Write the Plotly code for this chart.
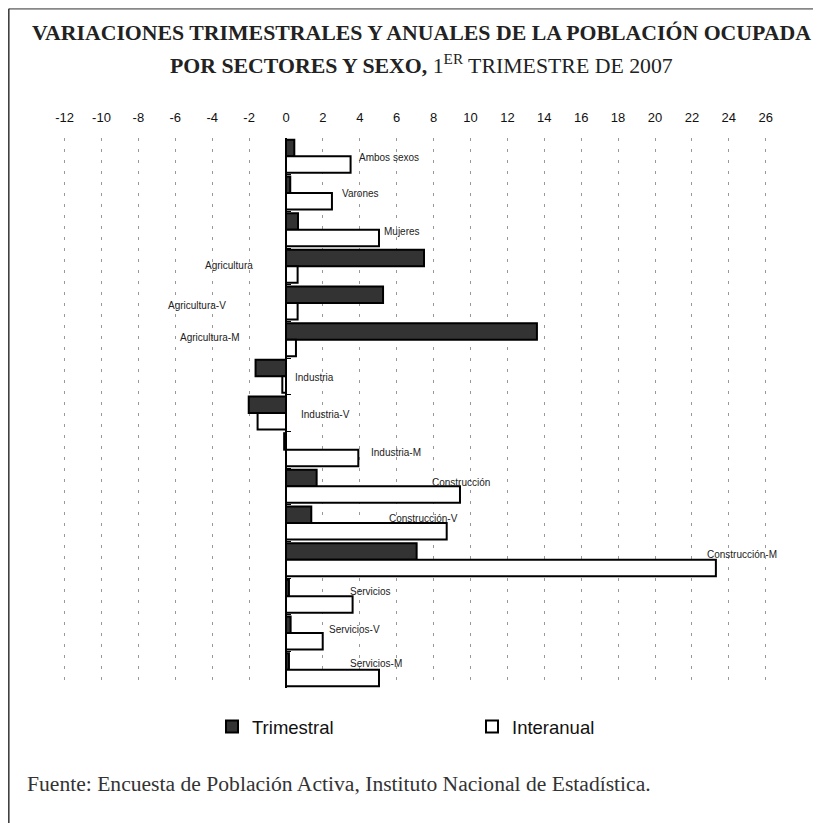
import plotly.graph_objects as go

categorias = ["Ambos sexos", "Varones", "Mujeres", "Agricultura", "Agricultura-V",
              "Agricultura-M", "Industria", "Industria-V", "Industria-M", "Construcción",
              "Construcción-V", "Construcción-M", "Servicios", "Servicios-V", "Servicios-M"]
trimestral = [0.45, 0.23, 0.65, 7.48, 5.26, 13.6, -1.65, -2.02, -0.1, 1.66,
              1.37, 7.08, 0.16, 0.25, 0.16]
interanual = [3.5, 2.49, 5.04, 0.63, 0.63, 0.54, -0.2, -1.54, 3.92, 9.43,
              8.71, 23.3, 3.61, 1.99, 5.04]
ticks_x = list(range(-12, 27, 2))
ticks_txt = [str(v) for v in ticks_x]  # plain hyphen, not unicode minus

# where the data labels sit (x in axis units, y offset in bands)
label_x = [3.86, 2.93, 5.22, -4.52, -6.52, -5.85, 0.40, 0.69, 4.48, 7.82,
           5.49, 22.73, 3.34, 2.24, 3.34]
label_dy = [0.02, 0.01, 0.04, -0.01, 0.07, -0.07, 0.04, 0.05, 0.08, -0.1,
            -0.12, -0.13, -0.13, -0.1, -0.16]

W, H = 821, 823
PAD = 8  # page body margin


def fx(xs):
    return (xs - PAD) / W


def fy(ys):
    return 1 - (ys - PAD) / H


px_per_unit = 18.45
x_min = -(286 - PAD) / px_per_unit
x_max = x_min + W / px_per_unit

fig = go.Figure()
fig.add_trace(go.Bar(y=categorias, x=trimestral, orientation="h", name="Trimestral",
                     marker=dict(color="#333333", line=dict(color="black", width=2))))
fig.add_trace(go.Bar(y=categorias, x=interanual, orientation="h", name="Interanual",
                     marker=dict(color="white", line=dict(color="black", width=2))))

for i, cat in enumerate(categorias):
    fig.add_annotation(x=label_x[i], y=i + label_dy[i], text=cat, showarrow=False,
                       xanchor="left", yanchor="middle",
                       font=dict(family="Liberation Sans", size=10, color="#222"))

fig.add_annotation(x=fx(421.5), y=fy(33), xref="paper", yref="paper", showarrow=False,
                   xanchor="center", yanchor="middle",
                   text="<b>VARIACIONES TRIMESTRALES Y ANUALES DE LA POBLACIÓN OCUPADA</b>",
                   font=dict(family="Liberation Serif", size=21.8, color="#222"))
fig.add_annotation(x=fx(421.5), y=fy(64), xref="paper", yref="paper", showarrow=False,
                   xanchor="center", yanchor="middle",
                   text="<b>POR SECTORES Y SEXO,</b> 1<sup>ER</sup> TRIMESTRE DE 2007",
                   font=dict(family="Liberation Serif", size=21.8, color="#222"))
fig.add_annotation(x=fx(25), y=fy(784), xref="paper", yref="paper", showarrow=False,
                   xanchor="left", yanchor="middle",
                   text="Fuente: Encuesta de Población Activa, Instituto Nacional de Estadística.",
                   font=dict(family="Liberation Serif", size=21.6, color="#333"))

# frame
fig.add_shape(type="line", xref="paper", yref="paper", x0=0.001, x1=1, y0=0.999, y1=0.999,
              line=dict(color="#888", width=2))
fig.add_shape(type="line", xref="paper", yref="paper", x0=0.001, x1=0.001, y0=0.999, y1=0,
              line=dict(color="#333", width=1.5))

fig.update_layout(
    width=W, height=H,
    margin=dict(l=0, r=0, t=0, b=0),
    paper_bgcolor="white", plot_bgcolor="white",
    barmode="group", bargap=0.1, bargroupgap=0,
    showlegend=True,
    legend=dict(orientation="h", x=fx(212), y=fy(727), xanchor="left", yanchor="middle",
                font=dict(family="Liberation Sans", size=18.5, color="#111"),
                entrywidth=215, itemwidth=30, traceorder="normal"),
    xaxis=dict(range=[x_min, x_max], side="top", tickvals=ticks_x, ticktext=ticks_txt,
               ticks="outside", ticklen=10, tickcolor="rgba(0,0,0,0)",
               tickfont=dict(family="Liberation Sans", size=13, color="#111"),
               showgrid=True, gridcolor="#999", gridwidth=1, griddash="3px,8px",
               zeroline=False, showline=False, domain=[0, 1]),
    yaxis=dict(categoryorder="array", categoryarray=categorias, autorange="reversed",
               domain=[fy(688), fy(138)], anchor="free",
               position=(0 - x_min) / (x_max - x_min),
               showticklabels=False, showgrid=False, zeroline=False,
               showline=True, linecolor="black", linewidth=2,
               ticks="inside", ticklen=4, tickcolor="black", tickson="boundaries"),
)

fig.write_html("out.html")
